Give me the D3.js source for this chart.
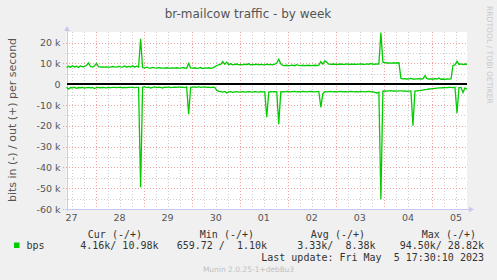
<!DOCTYPE html>
<html><head><meta charset="utf-8">
<script src="https://cdn.jsdelivr.net/npm/d3@7"></script>
<style>html,body{margin:0;padding:0;background:#f0f0f0;}svg{display:block;}</style>
</head><body>
<script>
// ---- data (kbit/s), hourly samples starting Apr 27 2023 09:30 ----
const outKbps = [
 8.0,8.6,8.2,8.9,8.3,8.7,8.1,8.8,8.4,8.6,9.0,10.2,8.5,8.3,8.9,10.0,8.4,8.2,8.3,8.2,
 8.3,8.2,8.2,8.5,8.3,8.2,8.6,8.3,8.2,8.8,8.2,8.6,8.3,8.9,8.2,8.7,8.3,
 21.8,
 8.0,7.8,8.2,7.9,7.7,8.1,7.8,7.7,8.0,7.8,7.7,7.7,7.9,7.7,7.7,7.8,7.7,7.9,7.7,7.7,8.0,7.8,7.7,
 10.0,
 7.8,7.7,7.9,7.6,7.7,8.0,7.5,7.8,7.7,7.9,7.6,7.8,8.3,
 9.0,9.3,9.5,10.9,9.6,10.6,9.4,9.8,9.3,9.5,9.7,9.3,9.5,
 9.3,9.6,9.4,9.8,9.3,9.5,9.4,9.6,9.3,9.5,9.4,9.3,9.6,9.4,9.5,9.3,9.6,10.2,12.0,9.8,9.0,
 8.9,9.1,8.8,9.0,9.2,8.9,9.4,9.0,8.9,9.1,8.9,9.0,9.1,8.9,9.0,9.1,9.0,9.2,
 10.8,9.6,11.2,10.5,9.6,9.5,9.7,9.6,9.5,9.6,9.7,9.5,9.6,9.8,9.5,9.6,9.7,9.6,9.5,9.7,9.8,9.6,9.5,9.8,9.6,9.9,9.7,9.6,9.8,9.7,
 24.8,
 10.6,10.4,10.2,10.3,10.1,10.3,10.2,10.2,10.3,
 2.8,2.6,2.7,2.5,2.6,2.8,2.5,2.4,2.6,2.7,2.5,2.6,4.1,2.7,2.5,2.6,2.4,2.7,2.5,3.0,2.4,2.5,2.3,2.6,2.4,2.5,
 9.0,9.3,11.0,9.5,9.8,9.4,9.7,9.6
];
const inKbps = [
 1.5,2.4,1.6,1.8,1.5,2.0,1.6,1.7,1.5,1.9,1.6,1.5,1.8,1.6,2.1,1.6,1.5,1.7,1.5,1.6,
 1.8,1.5,1.6,1.5,1.5,1.6,1.5,1.5,1.7,1.5,1.6,1.5,1.5,1.5,1.6,1.5,1.5,
 49.5,
 1.5,1.2,1.6,1.4,1.9,1.5,1.3,1.6,1.4,1.5,1.8,1.4,1.5,1.3,1.6,1.5,1.4,1.5,1.3,1.5,1.4,1.6,1.3,
 14.4,
 1.5,1.4,1.3,1.5,1.2,1.5,1.4,1.3,1.5,1.4,1.6,1.4,1.5,
 2.9,3.4,3.6,3.8,3.5,4.2,3.7,3.6,3.9,3.7,3.6,3.8,3.7,
 3.6,3.8,3.7,3.6,3.7,3.8,3.6,3.7,3.8,3.6,3.7,3.6,15.9,3.8,3.6,3.7,3.6,3.7,19.2,3.7,3.6,
 3.7,3.5,3.6,3.7,3.6,3.5,3.7,3.6,3.7,3.5,3.6,3.7,3.6,3.5,3.6,3.7,3.6,3.5,
 11.1,4.5,3.6,3.7,3.6,3.5,3.7,3.6,3.7,3.6,3.5,3.7,3.6,3.7,3.6,3.5,3.6,3.7,3.6,3.7,3.5,3.6,3.7,3.6,3.5,3.7,3.6,3.9,4.2,3.8,
 55.3,
 3.3,3.2,3.3,3.2,3.1,3.3,3.2,3.3,3.2,
 3.2,3.3,3.2,3.4,3.3,3.2,20.0,3.3,3.2,3.1,3.0,2.8,2.6,2.5,2.3,2.2,2.1,2.0,1.9,1.8,1.8,1.7,1.6,1.6,1.5,1.5,
 1.6,1.5,14.0,1.6,1.5,4.0,1.8,2.4
];
const yTicks = [20,10,0,-10,-20,-30,-40,-50,-60];
const yTickLabels = ["20 k","10 k","0","-10 k","-20 k","-30 k","-40 k","-50 k","-60 k"];
const dayLabels = ["27","28","29","30","01","02","03","04","05"];
const legendHeaders = ["Cur (-/+)","Min (-/+)","Avg (-/+)","Max (-/+)"];
const legendValues = ["4.16k/ 10.98k","659.72 /  1.10k","3.33k/  8.38k","94.50k/ 28.82k"];
const seriesName = "bps";
const lastUpdate = "Last update: Fri May  5 17:30:10 2023";

(function () {
const W = 497, H = 280;
const start = new Date(2023, 3, 27, 9, 30);
const end = new Date(2023, 4, 5, 17, 30);
const pL = 66.5, pR = 467, pT = 32, pB = 209;

const x = d3.scaleTime().domain([start, end]).range([pL, pR]);
const y = d3.scaleLinear().domain([-60, 25.1]).range([pB, pT]);
const t = i => d3.timeHour.offset(start, i);

const svg = d3.select("body").append("svg").attr("width", W).attr("height", H)
  .attr("font-family", "DejaVu Sans");
svg.append("rect").attr("width", W).attr("height", H).attr("fill", "#f0f0f0");
svg.append("rect").attr("x", pL).attr("y", pT).attr("width", pR - pL).attr("height", pB - pT).attr("fill", "#ffffff");

const g = svg.append("g").attr("shape-rendering", "crispEdges");
// minor grid
const minorV = d3.timeHour.every(6).range(start, end).filter(d => d.getHours() !== 0);
g.selectAll(".mv").data(minorV).join("line")
  .attr("x1", d => Math.round(x(d)) + 0.5).attr("x2", d => Math.round(x(d)) + 0.5)
  .attr("y1", pT).attr("y2", pB)
  .attr("stroke", "#cfcfcf").attr("stroke-dasharray", "1,2");
const minorH = d3.range(-55, 25, 10);
g.selectAll(".mh").data(minorH).join("line")
  .attr("x1", pL - 2).attr("x2", pR)
  .attr("y1", d => Math.round(y(d)) + 0.5).attr("y2", d => Math.round(y(d)) + 0.5)
  .attr("stroke", "#cfcfcf").attr("stroke-dasharray", "1,2");
// major grid
const majorV = d3.timeDay.range(start, end);
g.selectAll(".Mv").data(majorV).join("line")
  .attr("x1", d => Math.round(x(d)) + 0.5).attr("x2", d => Math.round(x(d)) + 0.5)
  .attr("y1", pT).attr("y2", pB + 2)
  .attr("stroke", "#f2a0a0").attr("stroke-dasharray", "1,2");
g.selectAll(".Mh").data(yTicks.filter(v => v !== 0)).join("line")
  .attr("x1", pL - 4).attr("x2", pR + 1)
  .attr("y1", d => Math.round(y(d)) + 0.5).attr("y2", d => Math.round(y(d)) + 0.5)
  .attr("stroke", "#f2a0a0").attr("stroke-dasharray", "1,2");

// axes lines
const axisCol = "#c8c8f4";
g.append("line").attr("x1", pL + 0.5).attr("x2", pL + 0.5).attr("y1", pT - 2).attr("y2", pB + 2).attr("stroke", axisCol);
g.append("line").attr("x1", pL - 2).attr("x2", pR + 3).attr("y1", pB + 0.5).attr("y2", pB + 0.5).attr("stroke", axisCol);
svg.append("path").attr("d", `M${pL - 2.5},${pT - 1}L${pL + 0.5},${pT - 6}L${pL + 3.5},${pT - 1}Z`).attr("fill", axisCol);
svg.append("path").attr("d", `M${pR + 2},${pB - 2.5}L${pR + 7},${pB + 0.5}L${pR + 2},${pB + 3.5}Z`).attr("fill", axisCol);

// y tick labels
svg.selectAll(".yt").data(yTicks).join("text")
  .attr("x", 60.5).attr("y", d => y(d) + 3.5)
  .attr("text-anchor", "end").attr("font-size", "9.5px").attr("fill", "#555")
  .text((d, i) => yTickLabels[i]);

// x tick labels (noon of each day)
const noons = d3.timeDay.range(d3.timeDay.floor(start), end).map(d => d3.timeHour.offset(d, 12));
svg.selectAll(".xt").data(noons).join("text")
  .attr("x", d => x(d)).attr("y", 220.5)
  .attr("text-anchor", "middle").attr("font-size", "9.5px").attr("fill", "#555")
  .text((d, i) => dayLabels[i]);

// zero line
g.append("line").attr("x1", pL).attr("x2", pR).attr("y1", Math.round(y(0))).attr("y2", Math.round(y(0)))
  .attr("stroke", "#000").attr("stroke-width", 2);

// series
const line = d3.line().x(d => x(d[0])).y(d => y(d[1]));
svg.append("path").datum(outKbps.map((v, i) => [t(i), v]))
  .attr("d", line).attr("fill", "none").attr("stroke", "#00cc00").attr("stroke-width", 1.3);
svg.append("path").datum(inKbps.map((v, i) => [t(i), -v]))
  .attr("d", line).attr("fill", "none").attr("stroke", "#00cc00").attr("stroke-width", 1.3);

// title
svg.append("text").attr("x", 248).attr("y", 18).attr("text-anchor", "middle")
  .attr("font-size", "12px").attr("fill", "#555").text("br-mailcow traffic - by week");
// y label
svg.append("text").attr("transform", "translate(16,120) rotate(-90)")
  .attr("text-anchor", "middle").attr("font-size", "11px").attr("fill", "#555")
  .text("bits in (-) / out (+) per second");
// rrdtool vertical
svg.append("text").attr("transform", "translate(486.5,6) rotate(90)")
  .attr("text-anchor", "start").attr("font-size", "7.6px").attr("fill", "#c8c8c8")
  .text("RRDTOOL / TOBI OETIKER");

// legend
const mono = "DejaVu Sans Mono";
const hdrX = [142, 254, 365, 476];
svg.selectAll(".lh").data(legendHeaders).join("text")
  .attr("x", (d, i) => hdrX[i]).attr("y", 237.5).attr("text-anchor", "end")
  .attr("font-family", mono).attr("font-size", "10px").attr("fill", "#333")
  .style("white-space", "pre").text(d => d);
svg.append("rect").attr("x", 14).attr("y", 242.5).attr("width", 5.5).attr("height", 5.5).attr("fill", "#00cc00");
svg.append("text").attr("x", 26.5).attr("y", 249.2).attr("font-family", mono).attr("font-size", "10px").attr("fill", "#333").text(seriesName);
const valX = [158.5, 267, 375.5, 484];
svg.selectAll(".lv").data(legendValues).join("text")
  .attr("x", (d, i) => valX[i]).attr("y", 249.2).attr("text-anchor", "end")
  .attr("font-family", mono).attr("font-size", "10px").attr("fill", "#333")
  .style("white-space", "pre").text(d => d);
svg.append("text").attr("x", 484).attr("y", 260.8).attr("text-anchor", "end")
  .attr("font-family", mono).attr("font-size", "10px").attr("fill", "#333")
  .style("white-space", "pre").text(lastUpdate);
svg.append("text").attr("x", 248.5).attr("y", 271.5).attr("text-anchor", "middle")
  .attr("font-size", "7.5px").attr("fill", "#c0c0c0").text("Munin 2.0.25-1+deb8u3");
})();
</script>
</body></html>
